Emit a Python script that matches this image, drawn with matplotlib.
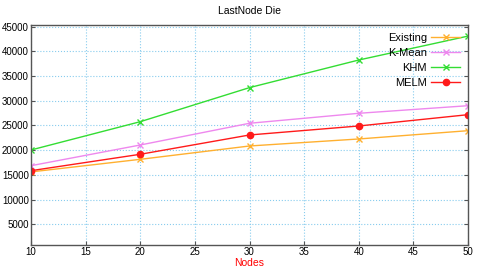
import matplotlib
matplotlib.use("Agg")
import matplotlib.pyplot as plt

plt.rcParams['font.family'] = ['Liberation Sans', 'DejaVu Sans']

nodes = [10, 20, 30, 40, 50]
existing = [15600, 18150, 20850, 22270, 23950]
kmean = [16860, 21050, 25450, 27470, 29010]
khm = [20040, 25770, 32670, 38260, 43100]
melm = [15850, 19170, 23080, 24900, 27190]

xticks = [10, 15, 20, 25, 30, 35, 40, 45, 50]
yticks = [5000, 10000, 15000, 20000, 25000, 30000, 35000, 40000, 45000]

fig = plt.figure(figsize=(4.8, 2.68), dpi=100)
ax = fig.add_axes([31/480, 1-245/268, (468-31)/480, (245-25)/268])

ax.plot(nodes, existing, color='#ffb030', marker='x', ms=5, mew=1.0, lw=1.0, label='Existing')
ax.plot(nodes, kmean, color='#ee88ee', marker='x', ms=5, mew=1.0, lw=1.0, label='K-Mean')
ax.plot(nodes, khm, color='#33dd33', marker='x', ms=5, mew=1.0, lw=1.0, label='KHM')
ax.plot(nodes, melm, color='#ff1a1a', marker='o', ms=4.5, lw=1.0, label='MELM')

ax.set_xlim(10, 50)
ax.set_ylim(800, 45350)
ax.set_xticks(xticks)
ax.set_yticks(yticks)
ax.tick_params(labelsize=7, direction='in', length=3, color='#555555', right=True, top=False, pad=1.5)
ax.grid(True, color='#88ccee', linestyle=':', linewidth=0.8)
for s in ax.spines.values():
    s.set_color('#555555')
    s.set_linewidth(1.0)

ax.set_title('LastNode Die', fontsize=7.5, pad=8)
ax.set_xlabel('Nodes', fontsize=7.5, color='red', labelpad=1)

leg = ax.legend(loc='upper right', frameon=False, markerfirst=False, fontsize=8,
                handlelength=2.6, borderaxespad=0.3, labelspacing=0.45, handletextpad=0.4)
for t in leg.get_texts():
    t.set_ha('right')

fig.savefig('out.png', dpi=100)
